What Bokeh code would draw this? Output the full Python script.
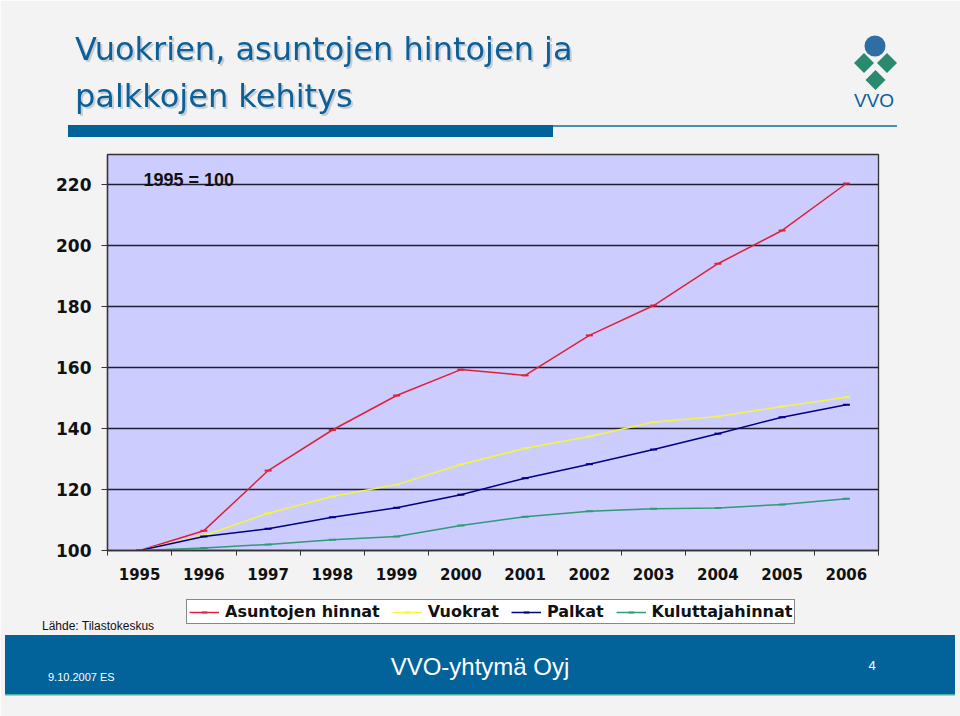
from bokeh.plotting import figure
from bokeh.layouts import column
from bokeh.models import Range1d, FixedTicker, Legend, LegendItem, Label, Div
from bokeh.embed import file_html
from bokeh.resources import INLINE

# ---------------- data ----------------
years = ["1995", "1996", "1997", "1998", "1999", "2000",
         "2001", "2002", "2003", "2004", "2005", "2006"]
asuntojen_hinnat = [100, 106.5, 126.2, 139.5, 150.8, 159.3, 157.4, 170.5, 180.3, 194.0, 204.9, 220.3]
vuokrat = [100, 104.9, 112.2, 117.7, 121.6, 128.2, 133.5, 137.4, 142.1, 143.9, 147.2, 150.2]
palkat = [100, 104.6, 107.1, 110.9, 114.0, 118.3, 123.7, 128.3, 133.1, 138.3, 143.7, 147.8]
kuluttajahinnat = [100, 100.8, 102.0, 103.5, 104.6, 108.2, 111.1, 112.9, 113.7, 113.9, 115.1, 117.0]
series_names = ["Asuntojen hinnat", "Vuokrat", "Palkat", "Kuluttajahinnat"]
y_ticks = [100, 120, 140, 160, 180, 200, 220]

title_lines = ["Vuokrien, asuntojen hintojen ja", "palkkojen kehitys"]
base_note = "1995 = 100"
source_note = "Lähde: Tilastokeskus"
footer_center = "VVO-yhtymä Oyj"
footer_left = "9.10.2007 ES"
page_no = "4"

BG = "#f3f3f3"
BLUE = "#0d5f97"
BAND = "#02639b"

W, H = 960, 716
FL, FR, FT, FB = 107, 878, 154, 550
XMIN, XMAX = -0.5, len(years) - 0.5
YMIN, YMAX = 100, 229.8
LEG_TOP, LEG_H, LEG_LEFT, LEG_BOTTOM = 594, 34, 186, 624


def dx(px):  # page pixel -> data x
    return XMIN + (px - FL) / (FR - FL) * (XMAX - XMIN)


def dy(py):  # page pixel -> data y
    return YMIN + (FB - py) / (FB - FT) * (YMAX - YMIN)


p = figure(width=W, height=H, output_backend="svg", toolbar_location=None,
           x_range=Range1d(XMIN, XMAX), y_range=Range1d(YMIN, YMAX),
           min_border_left=FL, min_border_right=W - FR, min_border_top=FT,
           min_border_bottom=H - FB)
p.background_fill_color = "#ccccff"
p.border_fill_color = BG
p.outline_line_color = "#333333"
p.outline_line_width = 1.3

xs = list(range(len(years)))
p.xaxis.ticker = FixedTicker(ticks=xs, minor_ticks=[i - 0.5 for i in range(len(years) + 1)])
p.xaxis.major_label_overrides = {i: y for i, y in enumerate(years)}
p.xaxis.major_tick_out = 0
p.xaxis.major_tick_in = 0
p.xaxis.minor_tick_out = 5
p.xaxis.minor_tick_in = 0
p.xaxis.major_label_standoff = 12
p.xaxis.major_label_text_font = "DejaVu Sans"
p.xaxis.major_label_text_font_style = "bold"
p.xaxis.major_label_text_font_size = "15px"
p.xaxis.major_label_text_color = "#111111"
p.xaxis.axis_line_color = "#333333"
p.xaxis.axis_line_width = 1.3
p.xaxis.minor_tick_line_color = "#333333"

p.yaxis.ticker = FixedTicker(ticks=y_ticks)
p.yaxis.major_tick_out = 6
p.yaxis.major_tick_in = 0
p.yaxis.minor_tick_line_color = None
p.yaxis.major_label_standoff = 10
p.yaxis.major_label_text_font = "DejaVu Sans"
p.yaxis.major_label_text_font_style = "bold"
p.yaxis.major_label_text_font_size = "17px"
p.yaxis.major_label_text_color = "#111111"
p.yaxis.axis_line_color = "#333333"
p.yaxis.axis_line_width = 1.3
p.yaxis.major_tick_line_color = "#333333"

p.xgrid.visible = False
p.ygrid.ticker = FixedTicker(ticks=y_ticks)
p.ygrid.grid_line_color = "#1e1e30"
p.ygrid.grid_line_width = 1.3

colors = ["#e0203a", "#f5f53c", "#000080", "#339977"]
data = [asuntojen_hinnat, vuokrat, palkat, kuluttajahinnat]
for name, col, ys in zip(series_names, colors, data):
    p.line(xs, ys, line_color=col, line_width=1.5)
    p.scatter(xs, ys, marker="dash", size=7, line_color=col, line_width=2)

p.add_layout(Label(x=dx(143), y=dy(179), text=base_note, text_font="Liberation Sans",
                   text_font_style="bold", text_font_size="18px", text_color="#111111",
                   text_baseline="alphabetic"))

# ---------------- legend strip (small transparent figure laid over the slide) ----------------
# the same series are drawn here far outside this strip's ranges, only to feed the legend
lf = figure(width=W, height=LEG_H, output_backend="svg", toolbar_location=None,
            x_range=Range1d(0, 1), y_range=Range1d(0, 1),
            x_axis_location=None, y_axis_location=None,
            min_border_left=FL, min_border_right=W - FR, min_border_top=0,
            min_border_bottom=0, margin=(LEG_TOP - H, 0, 0, 0))
lf.grid.visible = False
lf.outline_line_color = None
lf.background_fill_alpha = 0
lf.border_fill_alpha = 0
items = []
for name, col, ys in zip(series_names, colors, data):
    lr = lf.line(xs, ys, line_color=col, line_width=1.5)
    sr = lf.scatter(xs, ys, marker="dash", size=7, line_color=col, line_width=2)
    items.append(LegendItem(label=name, renderers=[lr, sr]))
legend = Legend(items=items, orientation="horizontal",
                location=(LEG_LEFT - FL, LEG_TOP + LEG_H - LEG_BOTTOM),
                background_fill_color="white", background_fill_alpha=1.0,
                border_line_color="#111111", border_line_width=1,
                label_text_font="DejaVu Sans", label_text_font_style="bold",
                label_text_font_size="16px", label_text_color="#111111",
                glyph_width=30, glyph_height=14, label_height=14,
                label_standoff=6, spacing=12, padding=2, margin=0)
lf.add_layout(legend, "center")

# ---------------- slide decoration (header, logo, footer) as an SVG overlay ----------------
TF = "font-family:'DejaVu Sans';font-size:32px;"
AF = "font-family:'Liberation Sans';"
svg = f"""<svg xmlns="http://www.w3.org/2000/svg" width="{W}" height="{H}" style="display:block">
<g style="filter: drop-shadow(2px 2px 0px #c5ccd3)">
<text x="75" y="60" style="{TF}fill:{BLUE}">{title_lines[0]}</text>
<text x="75" y="107" style="{TF}fill:{BLUE}">{title_lines[1]}</text>
</g>
<rect x="68" y="125" width="485" height="12" fill="{BAND}"/>
<rect x="553" y="125.3" width="344" height="1.4" fill="{BAND}"/>
<circle cx="875" cy="46" r="10.5" fill="#2f6ea5"/>
<polygon points="854,63 864,53 874,63 864,73" fill="#2a8a70"/>
<polygon points="877,63 887,53 897,63 887,73" fill="#2a8a70"/>
<polygon points="865.5,80 875.5,70 885.5,80 875.5,90" fill="#2a8a70"/>
<text x="874" y="107" text-anchor="middle" style="{AF}font-size:19px;fill:{BLUE}">VVO</text>
<text x="42" y="630" style="{AF}font-size:12px;fill:#111111">{source_note}</text>
<rect x="5" y="635" width="950" height="59" fill="{BAND}"/>
<rect x="5" y="694" width="950" height="1.5" fill="#4fb0a0"/>
<text x="480" y="675" text-anchor="middle" style="{AF}font-size:24px;fill:white">{footer_center}</text>
<text x="48" y="681" style="{AF}font-size:11px;fill:white">{footer_left}</text>
<text x="872" y="670" text-anchor="middle" style="{AF}font-size:13px;fill:white">{page_no}</text>
</svg>"""
overlay = Div(text=svg, width=W, height=H, margin=(-(LEG_TOP + LEG_H), 0, 0, 0))

layout = column(p, lf, overlay, spacing=0)
open("out.html", "w").write(file_html(layout, INLINE))
